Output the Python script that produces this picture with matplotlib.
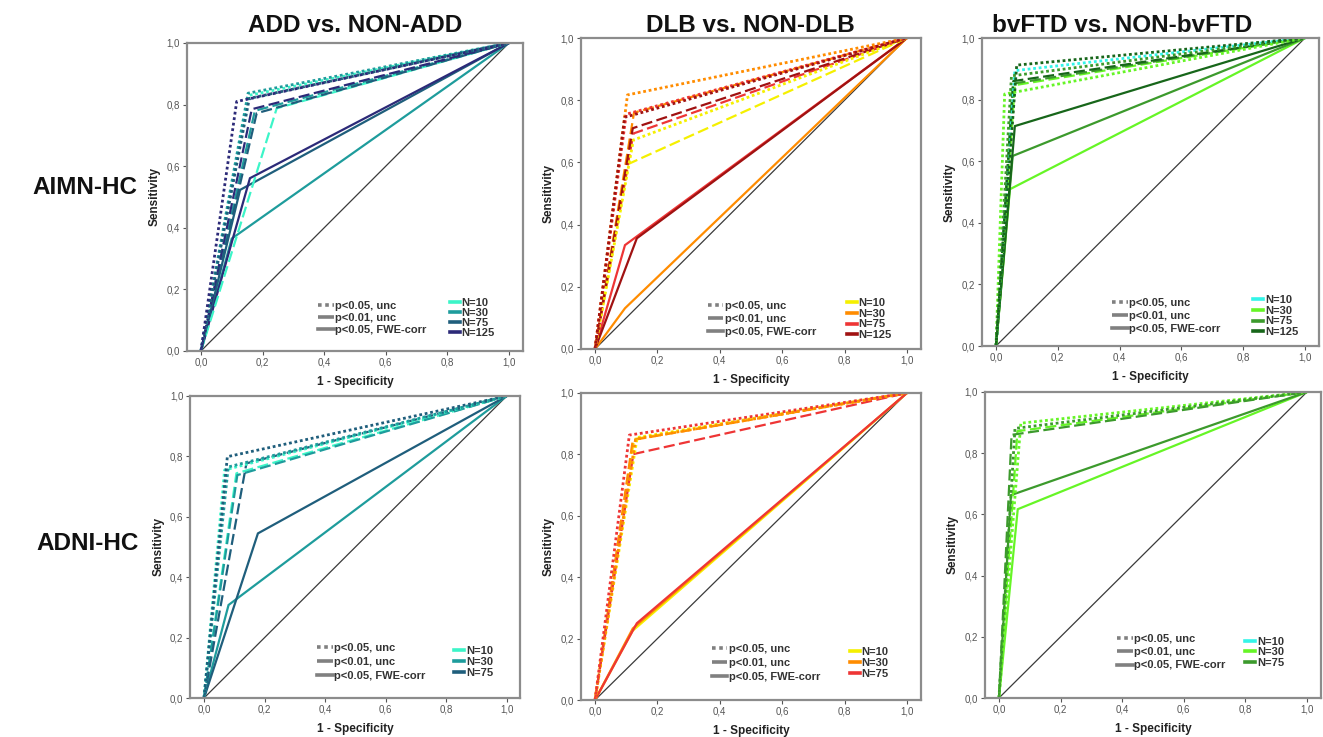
import numpy as np
import matplotlib
matplotlib.use("Agg")
import matplotlib.pyplot as plt
from matplotlib.lines import Line2D
from matplotlib.ticker import FuncFormatter, MultipleLocator

plt.rcParams['font.family'] = ['Liberation Sans', 'DejaVu Sans']

# ---------------- data (operating points: 1-specificity, sensitivity) ----------------
n_labels_4 = ["N=10", "N=30", "N=75", "N=125"]
n_labels_3 = ["N=10", "N=30", "N=75"]
thr_labels = ["p<0.05, unc", "p<0.01, unc", "p<0.05, FWE-corr"]
titles = ["ADD vs. NON-ADD", "DLB vs. NON-DLB", "bvFTD vs. NON-bvFTD"]
row_labels = ["AIMN-HC", "ADNI-HC"]

nan = np.nan
# ADD vs NON-ADD, AIMN-HC  (order N=10, 30, 75, 125)
add_aimn_unc05_fpr = [0.155, 0.153, 0.157, 0.116]
add_aimn_unc05_tpr = [0.830, 0.837, 0.820, 0.810]
add_aimn_unc01_fpr = [0.246, 0.175, 0.181, 0.165]
add_aimn_unc01_tpr = [0.788, 0.780, 0.772, 0.785]
add_aimn_fwe_fpr = [nan, 0.100, 0.127, 0.159]
add_aimn_fwe_tpr = [nan, 0.365, 0.523, 0.561]

# DLB vs NON-DLB, AIMN-HC
dlb_aimn_unc05_fpr = [0.123, 0.104, 0.100, 0.095]
dlb_aimn_unc05_tpr = [0.672, 0.817, 0.755, 0.745]
dlb_aimn_unc01_fpr = [0.107, 0.125, 0.123, 0.121]
dlb_aimn_unc01_tpr = [0.595, 0.760, 0.693, 0.710]
dlb_aimn_fwe_fpr = [nan, 0.096, 0.096, 0.134]
dlb_aimn_fwe_tpr = [nan, 0.131, 0.334, 0.356]

# bvFTD vs NON-bvFTD, AIMN-HC
ftd_aimn_unc05_fpr = [0.061, 0.028, 0.050, 0.067]
ftd_aimn_unc05_tpr = [0.894, 0.818, 0.877, 0.912]
ftd_aimn_unc01_fpr = [nan, 0.061, 0.055, 0.056]
ftd_aimn_unc01_tpr = [nan, 0.847, 0.852, 0.860]
ftd_aimn_fwe_fpr = [nan, 0.045, 0.054, 0.061]
ftd_aimn_fwe_tpr = [nan, 0.509, 0.617, 0.714]

# ADD vs NON-ADD, ADNI-HC  (order N=10, 30, 75)
add_adni_unc05_fpr = [0.068, 0.080, 0.077]
add_adni_unc05_tpr = [0.755, 0.765, 0.799]
add_adni_unc01_fpr = [0.107, 0.110, 0.140]
add_adni_unc01_tpr = [0.744, 0.738, 0.777]
add_adni_fwe_fpr = [nan, 0.081, 0.178]
add_adni_fwe_tpr = [nan, 0.308, 0.545]

# DLB vs NON-DLB, ADNI-HC
dlb_adni_unc05_fpr = [0.135, 0.130, 0.110]
dlb_adni_unc05_tpr = [0.855, 0.850, 0.863]
dlb_adni_unc01_fpr = [0.125, 0.121, 0.123]
dlb_adni_unc01_tpr = [0.850, 0.847, 0.801]
dlb_adni_fwe_fpr = [0.120, 0.121, 0.134]
dlb_adni_fwe_tpr = [0.225, 0.233, 0.250]

# bvFTD vs NON-bvFTD, ADNI-HC
ftd_adni_unc05_fpr = [nan, 0.071, 0.052]
ftd_adni_unc05_tpr = [nan, 0.898, 0.881]
ftd_adni_unc01_fpr = [nan, 0.060, 0.041]
ftd_adni_unc01_tpr = [nan, 0.872, 0.860]
ftd_adni_fwe_fpr = [nan, 0.061, 0.039]
ftd_adni_fwe_tpr = [nan, 0.617, 0.663]

# ---------------- styles ----------------
col_add = ["#3CF5C8", "#1E9C9C", "#1F5E7C", "#2C2A78"]
col_dlb = ["#F5F000", "#FF8C00", "#EE3535", "#A01212"]
col_ftd = ["#33F5E8", "#66F526", "#3C9A2C", "#17661A"]

ls_dot = (0, (1.0, 1.0))
ls_dash = (0, (5, 2))
ls_solid = '-'

panels = [
    dict(pos=(187.1, 43, 335.7, 308), cols=col_add, nl=n_labels_4,
         data=[(add_aimn_fwe_fpr, add_aimn_fwe_tpr, ls_solid),
               (add_aimn_unc01_fpr, add_aimn_unc01_tpr, ls_dash),
               (add_aimn_unc05_fpr, add_aimn_unc05_tpr, ls_dot)],
         lg1=(0.39, 0.107), lg2=(0.783, 0.107), sp1=0.2, sp2=0.02),
    dict(pos=(581, 38, 340, 311), cols=col_dlb, nl=n_labels_4,
         data=[(dlb_aimn_fwe_fpr, dlb_aimn_fwe_tpr, ls_solid),
               (dlb_aimn_unc01_fpr, dlb_aimn_unc01_tpr, ls_dash),
               (dlb_aimn_unc05_fpr, dlb_aimn_unc05_tpr, ls_dot)],
         lg1=(0.373, 0.096), lg2=(0.782, 0.096), sp1=0.28, sp2=0.06),
    dict(pos=(982.1, 38, 336.8, 308), cols=col_ftd, nl=n_labels_4,
         data=[(ftd_aimn_fwe_fpr, ftd_aimn_fwe_tpr, ls_solid),
               (ftd_aimn_unc01_fpr, ftd_aimn_unc01_tpr, ls_dash),
               (ftd_aimn_unc05_fpr, ftd_aimn_unc05_tpr, ls_dot)],
         lg1=(0.386, 0.097), lg2=(0.805, 0.097), sp1=0.28, sp2=0.06),
    dict(pos=(190.4, 396, 330, 302), cols=col_add[:3], nl=n_labels_3,
         data=[(add_adni_fwe_fpr, add_adni_fwe_tpr, ls_solid),
               (add_adni_unc01_fpr, add_adni_unc01_tpr, ls_dash),
               (add_adni_unc05_fpr, add_adni_unc05_tpr, ls_dot)],
         lg1=(0.384, 0.12), lg2=(0.80, 0.12), sp1=0.35, sp2=0.08),
    dict(pos=(581, 393, 340, 307), cols=col_dlb[:3], nl=n_labels_3,
         data=[(dlb_adni_fwe_fpr, dlb_adni_fwe_tpr, ls_solid),
               (dlb_adni_unc01_fpr, dlb_adni_unc01_tpr, ls_dash),
               (dlb_adni_unc05_fpr, dlb_adni_unc05_tpr, ls_dot)],
         lg1=(0.385, 0.12), lg2=(0.79, 0.12), sp1=0.35, sp2=0.1),
    dict(pos=(985.1, 392, 335.7, 306), cols=col_ftd[:3], nl=n_labels_3,
         data=[(ftd_adni_fwe_fpr, ftd_adni_fwe_tpr, ls_solid),
               (ftd_adni_unc01_fpr, ftd_adni_unc01_tpr, ls_dash),
               (ftd_adni_unc05_fpr, ftd_adni_unc05_tpr, ls_dot)],
         lg1=(0.393, 0.15), lg2=(0.775, 0.15), sp1=0.3, sp2=0.05),
]

W, H = 1323, 737
fig = plt.figure(figsize=(W / 100, H / 100), dpi=100)
fmt = FuncFormatter(lambda v, p: f"{v:.1f}".replace('.', ','))
spine_col = "#8C8C8C"

for p in panels:
    x0, ytop, w, h = p['pos']
    ax = fig.add_axes([x0 / W, 1 - (ytop + h) / H, w / W, h / H])
    ax.set_xlim(-0.045, 1.045)
    ax.set_ylim(0, 1)
    ax.plot([0, 1], [0, 1], color="#3A3A3A", lw=0.9, zorder=1)
    for fpr, tpr, ls in p['data']:
        for i, (fx, ty) in enumerate(zip(fpr, tpr)):
            if np.isnan(fx):
                continue
            lw = 2.0 if ls == ls_dot else 1.6
            ax.plot([0, fx, 1], [0, ty, 1], color=p['cols'][i], ls=ls, lw=lw,
                    solid_joinstyle='miter', zorder=2)
    for s in ax.spines.values():
        s.set_color(spine_col)
        s.set_linewidth(1.6)
    ax.xaxis.set_major_locator(MultipleLocator(0.2))
    ax.yaxis.set_major_locator(MultipleLocator(0.2))
    ax.xaxis.set_major_formatter(fmt)
    ax.yaxis.set_major_formatter(fmt)
    ax.tick_params(axis='both', labelsize=7, colors="#555555", length=3,
                   width=0.8, pad=2)
    ax.set_xlabel("1 - Specificity", fontsize=8.5, fontweight='bold',
                  color="#222222", labelpad=6)
    ax.set_ylabel("Sensitivity", fontsize=8.5, fontweight='bold',
                  color="#222222", labelpad=4)

    h1 = [Line2D([], [], color="#808080", lw=2.6, ls=ls) for ls in (ls_dot, ls_dash, ls_solid)]
    leg1 = ax.legend(h1, thr_labels, loc='center left', bbox_to_anchor=p['lg1'],
                     frameon=False, borderpad=0, borderaxespad=0, handlelength=1.4,
                     handletextpad=0.15, labelspacing=p['sp1'],
                     prop=dict(size=8, weight='bold'))
    for t in leg1.get_texts():
        t.set_color("#333333")
    ax.add_artist(leg1)
    h2 = [Line2D([], [], color=c, lw=2.6) for c in p['cols']]
    leg2 = ax.legend(h2, p['nl'], loc='center left', bbox_to_anchor=p['lg2'],
                     frameon=False, borderpad=0, borderaxespad=0, handlelength=0.9,
                     handletextpad=0.15, labelspacing=p['sp2'],
                     prop=dict(size=8, weight='bold'))
    for t in leg2.get_texts():
        t.set_color("#333333")

title_x = [355, 750, 1122]
for t, x in zip(titles, title_x):
    fig.text(x / W, 1 - 25 / H, t, ha='center', va='center', fontsize=17.5,
             fontweight='bold', color="#111111")
fig.text(85 / W, 1 - 188 / H, row_labels[0], ha='center', va='center',
         fontsize=17.5, fontweight='bold', color="#111111")
fig.text(88 / W, 1 - 543 / H, row_labels[1], ha='center', va='center',
         fontsize=17.5, fontweight='bold', color="#111111")

fig.savefig("out.png", dpi=100, facecolor='white')
